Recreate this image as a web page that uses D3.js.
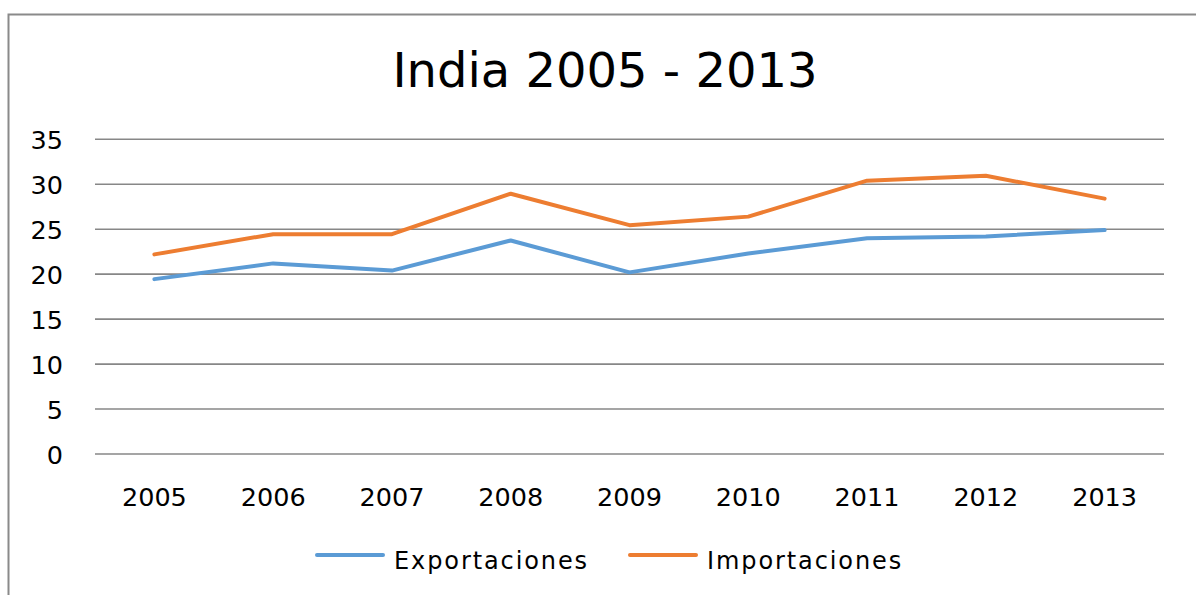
<!DOCTYPE html>
<html>
<head>
<meta charset="utf-8">
<script src="https://cdn.jsdelivr.net/npm/d3@7"></script>
<style>
  body { margin: 0; background: #fff; }
  svg { display: block; font-family: "DejaVu Sans", sans-serif; }
</style>
</head>
<body>
<div id="chart"></div>
<script>
// values
const years = ["2005", "2006", "2007", "2008", "2009", "2010", "2011", "2012", "2013"];
const exportaciones = [19.45, 21.2, 20.4, 23.75, 20.2, 22.3, 24.0, 24.2, 24.9];
const importaciones = [22.2, 24.45, 24.45, 28.95, 25.45, 26.4, 30.4, 30.95, 28.4];
const yTicks = [0, 5, 10, 15, 20, 25, 30, 35];
const series = [
  { name: "Exportaciones", values: exportaciones, color: "#5b9bd5" },
  { name: "Importaciones", values: importaciones, color: "#ed7d31" }
];

const width = 1196, height = 595;
const plotLeft = 95, plotRight = 1164, plotTop = 139.3, plotBottom = 454;

const svg = d3.select("#chart").append("svg")
  .attr("width", width)
  .attr("height", height);

// chart frame (runs off the right and bottom of the shot)
svg.append("rect")
  .attr("x", 8.5).attr("y", 14.5)
  .attr("width", 1300).attr("height", 700)
  .attr("fill", "none")
  .attr("stroke", "#8a8a8a")
  .attr("stroke-width", 2);

svg.append("text")
  .attr("x", 605).attr("y", 86.5)
  .attr("text-anchor", "middle")
  .style("font-size", "48px")
  .attr("fill", "#000")
  .text("India 2005 - 2013");

const x = d3.scaleBand().domain(years).range([plotLeft, plotRight]);
const y = d3.scaleLinear().domain([0, 35]).range([plotBottom, plotTop]);

// gridlines
svg.append("g")
  .selectAll("line")
  .data(yTicks)
  .join("line")
  .attr("x1", plotLeft).attr("x2", plotRight)
  .attr("y1", d => y(d)).attr("y2", d => y(d))
  .attr("stroke", "#878787")
  .attr("stroke-width", 1.6);

// y axis labels
const yAxis = svg.append("g")
  .attr("transform", "translate(63,0)")
  .call(d3.axisLeft(y).tickValues(yTicks).tickSize(0).tickPadding(0));
yAxis.select(".domain").remove();
yAxis.selectAll("text")
  .style("font-size", "25.5px")
  .style("font-family", "DejaVu Sans, sans-serif")
  .attr("fill", "#000")
  .attr("dy", "0.36em");

// x axis labels
const xAxis = svg.append("g")
  .attr("transform", "translate(0," + plotBottom + ")")
  .call(d3.axisBottom(x).tickSize(0).tickPadding(0));
xAxis.select(".domain").remove();
xAxis.selectAll("text")
  .style("font-size", "25.5px")
  .style("font-family", "DejaVu Sans, sans-serif")
  .attr("fill", "#000")
  .attr("dy", null)
  .attr("y", 51.5);

const line = d3.line()
  .x((d, i) => x(years[i]) + x.bandwidth() / 2)
  .y(d => y(d));

svg.append("g")
  .selectAll("path")
  .data(series)
  .join("path")
  .attr("d", d => line(d.values))
  .attr("fill", "none")
  .attr("stroke", d => d.color)
  .attr("stroke-width", 4)
  .attr("stroke-linecap", "round")
  .attr("stroke-linejoin", "round");

// legend
const legendX = [317, 630];
const legend = svg.append("g")
  .selectAll("g")
  .data(series)
  .join("g")
  .attr("transform", (d, i) => "translate(" + legendX[i] + ",555)");
legend.append("line")
  .attr("x1", 0).attr("x2", 66)
  .attr("stroke", d => d.color)
  .attr("stroke-width", 4)
  .attr("stroke-linecap", "round");
legend.append("text")
  .attr("x", 77).attr("y", 14)
  .style("font-size", "24px")
  .style("letter-spacing", "1.9px")
  .attr("fill", "#000")
  .text(d => d.name);
</script>
</body>
</html>
